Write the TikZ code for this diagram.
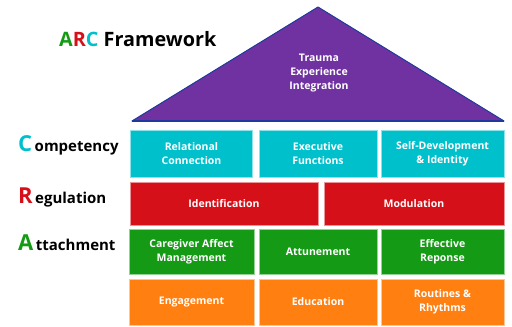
\documentclass[tikz,border=0pt]{standalone}
\usepackage{fontspec}
\setmainfont{Open Sans}
\definecolor{arcpurple}{HTML}{7032A0}
\definecolor{arcblue}{HTML}{1F3A9C}
\definecolor{arccyan}{HTML}{00C0CC}
\definecolor{arcred}{HTML}{D51018}
\definecolor{arcgreen}{HTML}{149A14}
\definecolor{arcorange}{HTML}{FF7F10}

\begin{document}
\begin{tikzpicture}[x=1pt,y=-1pt,
  box/.style={fill=#1,draw=#1!45!white,line width=0.8pt,text=white,
    font=\bfseries\fontsize{10.5}{14}\selectfont,align=center,inner sep=0pt},
  lbl/.style={anchor=base west,font=\bfseries\fontsize{15}{15}\selectfont,inner sep=0pt}]

\useasboundingbox (0,0) rectangle (512,327);

% roof
\coordinate (rl) at (132,121);
\coordinate (rt) at (318,7);
\coordinate (rr) at (504,121);
\fill[arcpurple,draw=arcblue,line width=1pt,line join=round] (rl) -- (rt) -- (rr) -- cycle;
\draw[arcblue,line width=2pt] (rl) -- (rr);
\node (tei) [text=white,font=\bfseries\fontsize{10.5}{14}\selectfont,align=center] at (319,73) {Trauma\\Experience\\Integration};

% title and letters
\node (title) [lbl,font=\bfseries\fontsize{19.8}{20}\selectfont] at (59,46.5)
  {\textcolor{arcgreen}{A}\textcolor{arcred}{R}\textcolor{arccyan}{C} Framework};
\node (comp) [lbl] at (18,151) {{\fontsize{22}{22}\selectfont\textcolor{arccyan}{C}}\,ompetency};
\node (regu) [lbl] at (18,203) {{\fontsize{22}{22}\selectfont\textcolor{arcred}{R}}\,egulation};
\node (atta) [lbl] at (18,250) {{\fontsize{22}{22}\selectfont\textcolor{arcgreen}{A}}\,ttachment};

% competency
\node (rel) [box=arccyan,minimum width=122,minimum height=47] at (191.5,153.5) {Relational\\Connection};
\node (exe) [box=arccyan,minimum width=118,minimum height=47] at (318,153.5) {Executive\\Functions};
\node (sdi) [box=arccyan,minimum width=123,minimum height=47] at (442.5,153.5) {Self-Development\\\& Identity};

% regulation
\node (idn) [box=arcred,minimum width=188,minimum height=43] at (224,203.5) {Identification};
\node (mod) [box=arcred,minimum width=180,minimum height=43] at (414,203.5) {Modulation};

% attachment
\node (cam) [box=arcgreen,minimum width=125,minimum height=45] at (191.5,251.5) {Caregiver Affect\\Management};
\node (att) [box=arcgreen,minimum width=118,minimum height=45] at (318,251.5) {Attunement};
\node (eff) [box=arcgreen,minimum width=123,minimum height=45] at (442.5,251.5) {Effective\\Reponse};

% foundation
\node (eng) [box=arcorange,minimum width=125,minimum height=46] at (191.5,302) {Engagement};
\node (edu) [box=arcorange,minimum width=118,minimum height=46] at (318,302) {Education};
\node (rou) [box=arcorange,minimum width=123,minimum height=46] at (442.5,302) {Routines \&\\Rhythms};

\end{tikzpicture}
\end{document}
